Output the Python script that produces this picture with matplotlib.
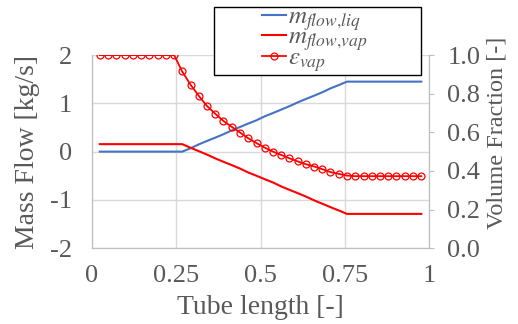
import matplotlib
matplotlib.use("Agg")
import matplotlib.pyplot as plt
from matplotlib.patches import Rectangle

# tube positions (cell centres)
tube_x = [0.024, 0.049, 0.073, 0.098, 0.122, 0.146, 0.171, 0.195, 0.220, 0.244,
          0.268, 0.293, 0.317, 0.341, 0.366, 0.390, 0.415, 0.439, 0.463, 0.488,
          0.512, 0.537, 0.561, 0.585, 0.610, 0.634, 0.659, 0.683, 0.707, 0.732,
          0.756, 0.780, 0.805, 0.829, 0.854, 0.878, 0.902, 0.927, 0.951, 0.976]

# mass flow of liquid [kg/s]
m_liq = [0.0, 0.0, 0.0, 0.0, 0.0, 0.0, 0.0, 0.0, 0.0, 0.0,
         0.0, 0.07, 0.15, 0.22, 0.29, 0.36, 0.44, 0.51, 0.58, 0.65,
         0.73, 0.80, 0.87, 0.94, 1.02, 1.09, 1.16, 1.23, 1.31, 1.38,
         1.45, 1.45, 1.45, 1.45, 1.45, 1.45, 1.45, 1.45, 1.45, 1.45]

# mass flow of vapour [kg/s]
m_vap = [0.155, 0.155, 0.155, 0.155, 0.155, 0.155, 0.155, 0.155, 0.155, 0.155,
         0.155, 0.08, 0.01, -0.06, -0.14, -0.21, -0.28, -0.35, -0.43, -0.50,
         -0.57, -0.64, -0.72, -0.79, -0.86, -0.93, -1.01, -1.08, -1.15, -1.22,
         -1.29, -1.29, -1.29, -1.29, -1.29, -1.29, -1.29, -1.29, -1.29, -1.29]

# vapour volume fraction [-]
eps_vap = [1.0, 1.0, 1.0, 1.0, 1.0, 1.0, 1.0, 1.0, 1.0, 1.0,
           0.915, 0.846, 0.789, 0.737, 0.696, 0.659, 0.628, 0.599, 0.570, 0.544,
           0.521, 0.500, 0.483, 0.466, 0.449, 0.435, 0.423, 0.409, 0.394, 0.385,
           0.376, 0.373, 0.373, 0.373, 0.373, 0.373, 0.373, 0.373, 0.373, 0.373]

x_ticks = [0, 0.25, 0.5, 0.75, 1]
x_ticklabels = ["0", "0.25", "0.5", "0.75", "1"]
left_ticks = [-2, -1, 0, 1, 2]
right_ticks = [0.0, 0.2, 0.4, 0.6, 0.8, 1.0]

txt = "#595959"
plt.rcParams["font.family"] = ["Liberation Serif", "DejaVu Serif"]
plt.rcParams["mathtext.fontset"] = "stix"

fig = plt.figure(figsize=(5.18, 3.24), dpi=100)
ax1 = fig.add_axes([0.177, 0.234, 0.652, 0.596])
ax2 = ax1.twinx()

l1, = ax1.plot(tube_x, m_liq, color="#4472C4", lw=1.5)
l2, = ax1.plot(tube_x, m_vap, color="#FF0000", lw=1.5)
l3, = ax2.plot(tube_x, eps_vap, color="#FF0000", lw=1.3, marker="o",
               markersize=5, markerfacecolor="none", markeredgewidth=0.9)

ax1.set_xlim(0, 1)
ax1.set_ylim(-2, 2)
ax2.set_ylim(0, 1)
ax1.set_xticks(x_ticks)
ax1.set_xticklabels(x_ticklabels)
ax1.set_yticks(left_ticks)
ax1.set_yticklabels([str(v) for v in left_ticks])
ax2.set_yticks(right_ticks)
ax2.set_yticklabels([f"{v:.1f}" for v in right_ticks])

ax1.grid(True, color="#d9d9d9", lw=1)
ax1.set_axisbelow(True)

for ax in (ax1, ax2):
    for s in ax.spines.values():
        s.set_color("#bfbfbf")
    ax.spines["top"].set_visible(False)

ax1.tick_params(axis="both", length=0, labelsize=19, labelcolor=txt)
ax1.tick_params(axis="y", pad=14)
ax1.tick_params(axis="x", pad=12)
ax2.tick_params(axis="y", length=3.6, color="#bfbfbf", labelsize=19,
                labelcolor=txt, pad=9.4)

ax1.set_xlabel("Tube length [-]", fontsize=20, color=txt, labelpad=6)
ax1.set_ylabel("Mass Flow [kg/s]", fontsize=20, color=txt)
ax1.yaxis.set_label_coords(-0.153, 0.5)
ax2.set_ylabel("Volume Fraction [-]", fontsize=17.5, color=txt)
ax2.yaxis.set_label_coords(1.17, 0.595)

# legend box sits over the top of the plot area
box = Rectangle((214 / 518, 1 - 75 / 324), 207 / 518, 68 / 324,
                transform=fig.transFigure, facecolor="white",
                edgecolor="black", lw=1.0, zorder=4)
fig.patches.append(box)

leg = fig.legend([l1, l2, l3],
                 [r"$m_{flow{,}liq}$", r"$m_{flow{,}vap}$", r"$\varepsilon_{vap}$"],
                 loc="center", bbox_to_anchor=(315 / 518, 1 - 40 / 324),
                 fontsize=18, labelcolor=txt, frameon=False,
                 labelspacing=-0.25, borderpad=0, handlelength=0.95,
                 handletextpad=0.1, borderaxespad=0)
leg.set_zorder(5)

fig.savefig("out.png", dpi=100)
